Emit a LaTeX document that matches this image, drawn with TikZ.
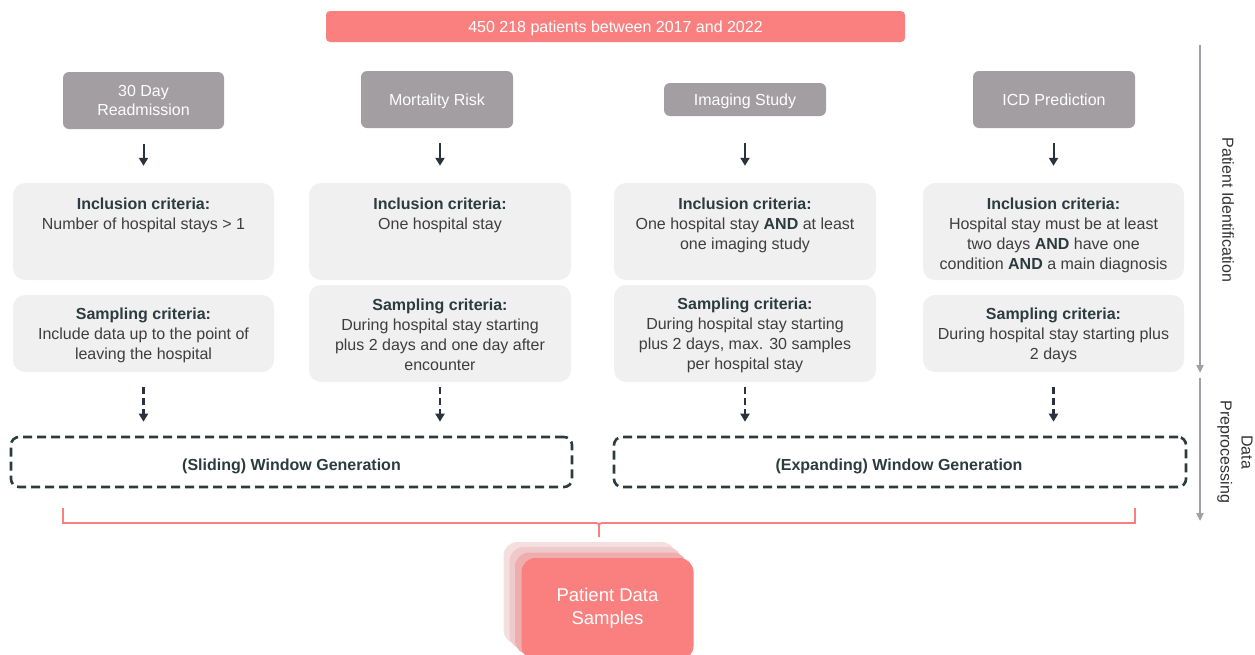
\documentclass[tikz,border=0pt]{standalone}
\usepackage{fontspec}
\setmainfont{Liberation Sans}
\usetikzlibrary{arrows.meta}
\definecolor{salmon}{RGB}{250,128,128}
\definecolor{hdrgray}{RGB}{163,158,162}
\definecolor{boxgray}{RGB}{240,240,240}
\definecolor{txtgray}{RGB}{62,62,62}
\definecolor{slate}{RGB}{44,60,62}
\definecolor{arrowdark}{RGB}{43,50,62}
\definecolor{sidegray}{RGB}{160,160,166}
\definecolor{labelgray}{RGB}{50,50,50}
\definecolor{backA}{RGB}{244,222,222}
\definecolor{backB}{RGB}{240,202,202}
\definecolor{backC}{RGB}{239,174,174}
\newcommand\fsz[2]{\fontsize{#1}{#2}\selectfont}
\begin{document}
\begin{tikzpicture}[x=1pt,y=-1pt,
  titlebox/.style={fill=salmon, rounded corners=4pt, text=white, font=\fsz{16}{19}, inner sep=0pt, minimum width=579pt, minimum height=31pt},
  hdr/.style={fill=hdrgray, rounded corners=6pt, text=white, font=\fsz{16}{19.5}, align=center, inner sep=0pt},
  critbox/.style={fill=boxgray, rounded corners=12pt, inner sep=0pt},
  crittext/.style={align=center, inner sep=0pt, text=txtgray, font=\fsz{16}{20}},
  solidarr/.style={draw=arrowdark, line width=2pt, -{Triangle[length=8pt,width=9pt]}},
  dasharr/.style={draw=arrowdark, line width=2.4pt, dash pattern=on 7pt off 4pt, -{Triangle[length=8pt,width=9pt]}},
  winbox/.style={draw=slate, line width=2.6pt, dash pattern=on 9pt off 5pt, rounded corners=8pt, minimum height=50pt, inner sep=0pt},
  wintext/.style={text=slate, font=\bfseries\fsz{16}{20}, inner sep=0pt},
  sidearr/.style={draw=sidegray, line width=2.4pt, -{Triangle[length=8pt,width=7pt]}},
  sidelabel/.style={rotate=-90, align=center, text=labelgray, font=\fsz{16}{21}, inner sep=0pt},
  card/.style={rounded corners=14pt, minimum width=172pt, minimum height=102pt, inner sep=0pt},
  bracket/.style={draw=salmon, line width=1.8pt}
]
\useasboundingbox (0,0) rectangle (1255,654);

% top box
\node[titlebox] (top) at (615.5,26.5) {};
\node[text=white, font=\fsz{16}{19}, inner sep=0pt, anchor=base] (toptext) at (615.5,32.5) {450 218 patients between 2017 and 2022};

% headers
\node[hdr, minimum width=161pt, minimum height=57pt] (h1) at (143.5,100.5) {30 Day\\Readmission};
\node[hdr, minimum width=152pt, minimum height=57pt] (h2) at (437,99.5) {};
\node[hdr, minimum width=162pt, minimum height=33pt] (h3) at (745,99.5) {};
\node[hdr, minimum width=162pt, minimum height=57pt] (h4) at (1054,99.5) {};
\node[hdr, fill=none, anchor=base] (h2t) at (437,105.5) {Mortality Risk};
\node[hdr, fill=none, anchor=base] (h3t) at (745,105.5) {Imaging Study};
\node[hdr, fill=none, anchor=base] (h4t) at (1054,105.5) {ICD Prediction};

% inclusion boxes
\node[critbox, minimum width=261pt, minimum height=97pt] (inc1) at (143.5,231.5) {};
\node[critbox, minimum width=262pt, minimum height=97pt] (inc2) at (440,231.5) {};
\node[critbox, minimum width=262pt, minimum height=97pt] (inc3) at (745,231.5) {};
\node[critbox, minimum width=261pt, minimum height=97pt] (inc4) at (1053.5,231.5) {};

\node[crittext, anchor=north] (inc1t) at (143.5,197.5) {{\color{slate}\bfseries Inclusion criteria:}\\Number of hospital stays > 1};
\node[crittext, anchor=north] (inc2t) at (440,197.5) {{\color{slate}\bfseries Inclusion criteria:}\\One hospital stay};
\node[crittext, anchor=north] (inc3t) at (745,197.5) {{\color{slate}\bfseries Inclusion criteria:}\\One hospital stay \textbf{\color{slate}AND} at least\\one imaging study};
\node[crittext, anchor=north] (inc4t) at (1053.5,197.5) {{\color{slate}\bfseries Inclusion criteria:}\\Hospital stay must be at least\\two days \textbf{\color{slate}AND} have one\\condition \textbf{\color{slate}AND} a main diagnosis};

% sampling boxes
\node[critbox, minimum width=261pt, minimum height=77pt] (samp1) at (143.5,333.5) {};
\node[critbox, minimum width=262pt, minimum height=97pt] (samp2) at (440,333.5) {};
\node[critbox, minimum width=262pt, minimum height=97pt] (samp3) at (745,333.5) {};
\node[critbox, minimum width=261pt, minimum height=77pt] (samp4) at (1053.5,333.5) {};

\node[crittext] (samp1t) at (143.5,335.5) {{\color{slate}\bfseries Sampling criteria:}\\Include data up to the point of\\leaving the hospital};
\node[crittext] (samp2t) at (440,335) {{\color{slate}\bfseries Sampling criteria:}\\During hospital stay starting\\plus 2 days and one day after\\encounter};
\node[crittext] (samp3t) at (745,335) {{\color{slate}\bfseries Sampling criteria:}\\During hospital stay starting\\plus 2 days, max. 30 samples\\per hospital stay};
\node[crittext] (samp4t) at (1053.5,335.5) {{\color{slate}\bfseries Sampling criteria:}\\During hospital stay starting plus\\2 days};

% window boxes
\node[winbox, minimum width=561pt] (win1) at (291.5,462) {};
\node[winbox, minimum width=572pt] (win2) at (900,462) {};
\node[wintext, anchor=base] (win1t) at (291.5,470.5) {(Sliding) Window Generation};
\node[wintext, anchor=base] (win2t) at (899,470.5) {(Expanding) Window Generation};

% solid arrows
\draw[solidarr, shorten <=15pt, shorten >=17pt] (inc1.north |- h1.south) -- (inc1.north);
\draw[solidarr, shorten <=15pt, shorten >=17pt] (inc2.north |- h2.south) -- (inc2.north);
\draw[solidarr, shorten <=27pt, shorten >=17pt] (inc3.north |- h3.south) -- (inc3.north);
\draw[solidarr, shorten <=15pt, shorten >=17pt] (inc4.north |- h4.south) -- (inc4.north);

% dashed arrows
\draw[dasharr, shorten <=15pt, shorten >=14pt] (samp1.south) -- (samp1.south |- win1.north);
\draw[dasharr, shorten <=5pt, shorten >=14pt] (samp2.south) -- (samp2.south |- win1.north);
\draw[dasharr, shorten <=5pt, shorten >=14pt] (samp3.south) -- (samp3.south |- win2.north);
\draw[dasharr, shorten <=15pt, shorten >=14pt] (samp4.south) -- (samp4.south |- win2.north);

% bracket
\coordinate (brL) at (63,508);
\coordinate (brR) at (1135,508);
\coordinate (brM) at (599,537);
\draw[bracket] (brL) |- (593,523) .. controls (599,523) .. (599,529) -- (brM);
\draw[bracket] (brR) |- (605,523) .. controls (599,523) .. (599,529);

% stacked cards
\node[card, fill=backA] (cardA) at (589.5,593) {};
\node[card, fill=backB] (cardB) at (595.5,598) {};
\node[card, fill=backC] (cardC) at (601,603.5) {};
\node[card, fill=salmon] (pds) at (607.5,609) {};
\node[text=white, align=center, font=\fsz{18.5}{23}, inner sep=0pt] (pdst) at (607.5,608.5) {Patient Data\\Samples};

% side arrows and labels
\coordinate (piTop) at (1200,45);
\coordinate (piEnd) at (1200,373);
\coordinate (dpTop) at (1200,378);
\coordinate (dpEnd) at (1200,521);
\draw[sidearr] (piTop) -- (piEnd);
\draw[sidearr] (dpTop) -- (dpEnd);
\node[sidelabel] (pilab) at (1228,210) {Patient Identification};
\node[sidelabel] (dplab) at (1235,452) {Data\\Preprocessing};
\end{tikzpicture}
\end{document}
